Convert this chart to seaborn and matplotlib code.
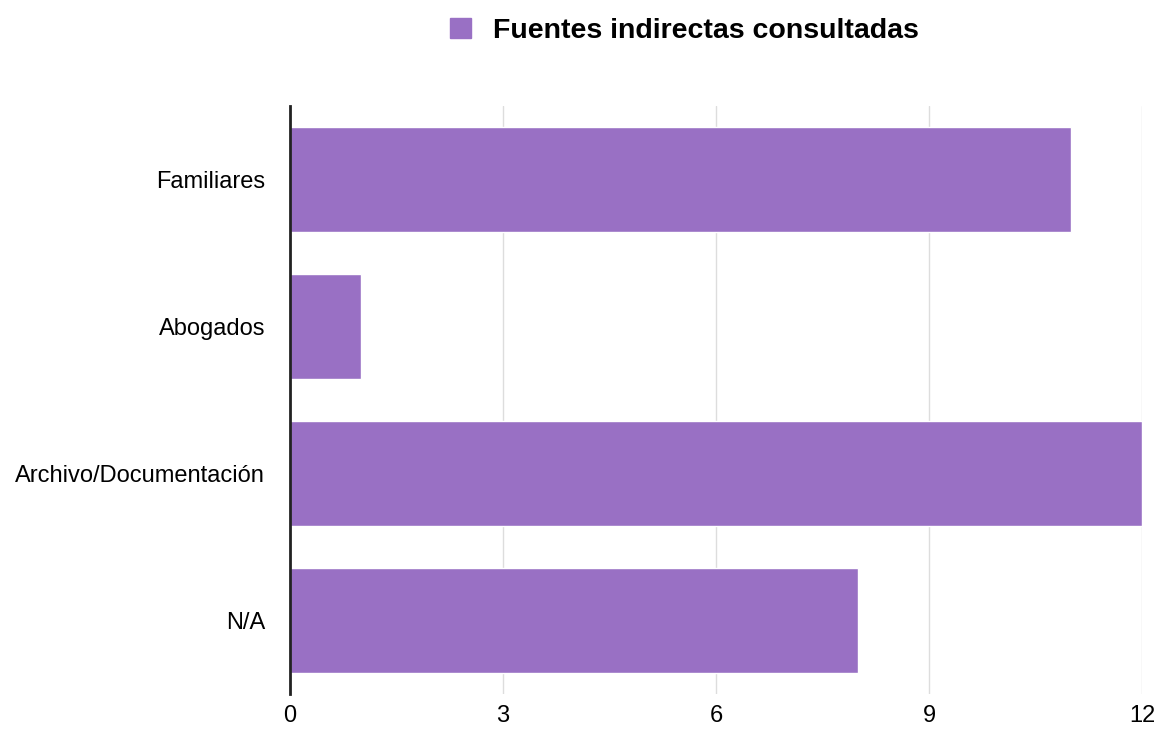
import seaborn as sns
import pandas as pd
from matplotlib import pyplot as plt
from matplotlib.patches import Patch

# data
categories = ["Familiares", "Abogados", "Archivo/Documentación", "N/A"]
values = [11, 1, 12, 8]
series_name = "Fuentes indirectas consultadas"
x_ticks = [0, 3, 6, 9, 12]

df = pd.DataFrame({"categoria": categories, "valor": values})

sns.set_style("white")
plt.rcParams['font.family'] = ['Liberation Sans', 'DejaVu Sans']
plt.rcParams['text.color'] = 'black'
plt.rcParams['xtick.color'] = 'black'
plt.rcParams['ytick.color'] = 'black'

fig = plt.figure(figsize=(11.62, 7.31), dpi=100)
ax = fig.add_axes([0.2496, 0.0506, 0.7334, 0.8044])

bar_color = "#9970C4"
sns.barplot(data=df, y="categoria", x="valor", color=bar_color, width=0.714,
            orient="h", ax=ax, saturation=1)

ax.set_xlim(0, 12)
ax.set_xticks(x_ticks)
ax.set_xticklabels([str(t) for t in x_ticks], fontsize=17)
ax.tick_params(axis="y", labelsize=17, length=0, pad=18)
ax.tick_params(axis="x", length=0, pad=8)
ax.set_xlabel("")
ax.set_ylabel("")
ax.grid(axis="x", color="#dddddd", linewidth=1)
ax.set_axisbelow(True)
for s in ["top", "right", "bottom"]:
    ax.spines[s].set_visible(False)
ax.spines["left"].set_color("#222222")
ax.spines["left"].set_linewidth(2)

# legend on top
fig.legend(handles=[Patch(color=bar_color, label=series_name)],
           loc="center", bbox_to_anchor=(0.589, 0.958), frameon=False,
           prop={"weight": "bold", "size": 20.5}, handlelength=0.75,
           handleheight=0.75, handletextpad=0.75)

fig.savefig("out.png", dpi=100)
